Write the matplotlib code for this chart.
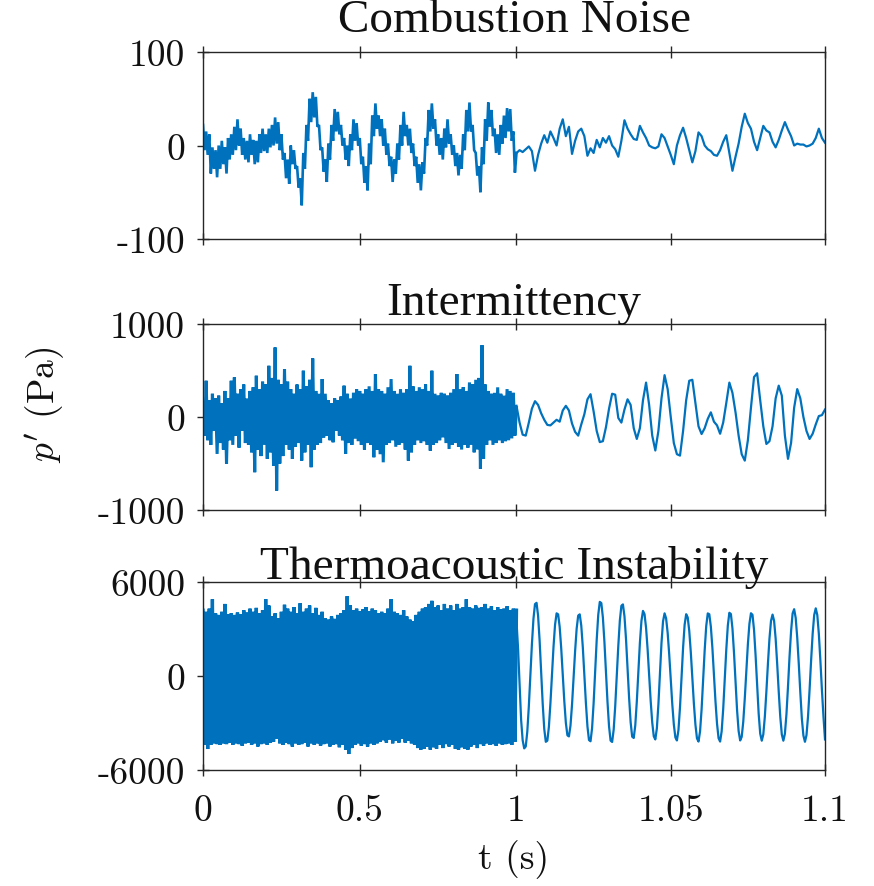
import numpy as np
import matplotlib
matplotlib.use('Agg')
import matplotlib.pyplot as plt

plt.rcParams['mathtext.fontset'] = 'cm'

# ---------------- data ----------------
titles = ["Combustion Noise", "Intermittency", "Thermoacoustic Instability"]
x_ticks = [0, 0.5, 1, 1.05, 1.1]
x_ticklabels = ["0", "0.5", "1", "1.05", "1.1"]
y_ticks = [[-100, 0, 100], [-1000, 0, 1000], [-6000, 0, 6000]]
y_ticklabels = [["-100", "0", "100"], ["-1000", "0", "1000"], ["-6000", "0", "6000"]]

# Combustion noise: 0-1 s (coarse view) and 1-1.1 s (zoomed view)
noise_early = [
    22, -5, 15, -10, 12, -30, -2, -25, -5, -34,
    0, -25, 5, -20, -2, -30, 8, -15, 12, -10,
    20, -5, 28, 0, 18, -10, 8, -15, 5, -18,
    12, -10, 6, -20, 5, -18, 12, -8, 18, -6,
    12, -8, 18, -2, 22, 0, 30, 2, 25, -5,
    12, -15, -8, -35, -15, -41, 0, -20, -5, -25,
    -22, -45, -35, -64, -8, -25, 22, 5, 50, 25,
    57, 30, 52, 20, 22, -5, -2, -28, -15, -39,
    2, -15, 22, 5, 39, 15, 36, 12, 22, 0,
    8, -15, 0, -22, 12, -5, 28, 5, 24, 0,
    8, -20, -12, -40, -22, -48, 2, -20, 32, 10,
    45, 18, 32, 10, 28, 0, 18, -10, 2, -22,
    -12, -39, -15, -30, 2, -15, 22, 0, 36, 10,
    22, 0, 18, -8, 2, -22, -12, -40, -20, -48,
    -18, -30, 8, 0, 38, 15, 45, 18, 28, 0,
    12, -10, 8, -15, 18, -2, 28, 2, 12, -10,
    0, -22, -8, -32, -10, -25, 12, -5, 38, 15,
    46, 15, 22, -5, -8, -32, -22, -50, -2, -20,
    28, 5, 46, 20, 38, 10, 18, -8, 12, -10,
    22, 2, 32, 8, 40, 15, 39, 5, 15, -29,
    -8]
noise_late = [
    -8, -5, -7, -4, -1, -6, -27, -10, 2, 11,
    3, 15, 8, 0, 18, 28, 10, 20, -9, 5,
    15, 18, 10, -11, -3, -8, 6, -2, 8, 3,
    10, 0, -4, -12, 5, 27, 18, 12, 7, 6,
    21, 14, 8, 0, -2, -3, -1, 12, 8, -1,
    -10, -20, 0, 11, 19, 8, -5, -18, -6, 14,
    10, 0, -4, -6, -10, -11, -5, 4, 11, -8,
    -27, -12, 2, 20, 34, 24, 18, 4, -5, 8,
    21, 16, 14, 4, -2, 6, 16, 25, 17, 10,
    0, 2, 1, 1, -1, 0, 2, 8, 18, 8,
    3]

# Intermittency
inter_early = [
    150, -200, 390, -250, 180, -300, 250, -150, 200, -397,
    230, -280, 150, -350, 280, -505, 200, -250, 390, -300,
    426, -200, 250, -330, 300, -150, 350, -280, 200, -300,
    280, -380, 320, -594, 444, -350, 300, -420, 380, -300,
    350, -450, 551, -380, 420, -523, 748, -791, 400, -500,
    350, -420, 515, -300, 380, -350, 300, -450, 250, -320,
    350, -280, 300, -469, 498, -380, 330, -300, 400, -540,
    630, -350, 280, -300, 250, -280, 408, -220, 250, -200,
    180, -250, 150, -272, 200, -150, 180, -200, 220, -250,
    337, -397, 250, -280, 200, -300, 260, -230, 300, -260,
    280, -300, 250, -350, 300, -280, 330, -300, 280, -433,
    462, -350, 300, -400, 280, -487, 250, -300, 320, -280,
    408, -250, 280, -320, 250, -300, 300, -280, 260, -350,
    300, -469, 551, -380, 330, -300, 280, -250, 320, -280,
    300, -260, 350, -300, 280, -362, 498, -300, 250, -280,
    230, -250, 260, -220, 250, -280, 230, -344, 260, -300,
    300, -280, 462, -320, 300, -350, 320, -300, 280, -330,
    372, -300, 350, -380, 400, -350, 420, -558, 773, -450,
    350, -300, 280, -250, 250, -300, 260, -280, 319, -250,
    250, -280, 230, -260, 300, -250, 280, -230, 260, -200,
    100]
inter_late = [
    120, -60, -190, -200, -60, 90, 170, 130, 40, -30,
    -85, -90, -60, -30, -50, 70, 120, 70, -70, -160,
    -200, -80, 30, 190, 245, 60, -150, -270, -260, -110,
    90, 250, 240, -10, -60, 80, 190, 130, -120, -236,
    -120, 180, 370, 130, -200, -360, -150, 200, 450, 300,
    0, -280, -400, -415, -150, 180, 390, 400, 150, -100,
    -183, -120, -20, 50, -50, -90, -180, -60, 150, 370,
    260, 50, -200, -400, -469, -250, 100, 430, 470, 180,
    -100, -290, -260, -100, 200, 337, 230, -200, -450, -280,
    100, 300, 200, 0, -150, -236, -180, -80, 10, 20,
    80]

# Thermoacoustic instability
thermo_early = [
    4200, -4400, 4100, -4660, 4300, -4400, 4900, -4300, 4000, -4350,
    3900, -4400, 4100, -4300, 4600, -4350, 3950, -4250, 4000, -4400,
    3900, -4300, 4050, -4350, 3950, -4450, 4200, -4300, 4050, -4250,
    4300, -4400, 4100, -4300, 4350, -4500, 4000, -4350, 4200, -4300,
    4910, -4400, 4500, -4250, 3800, -4200, 4000, -4020, 3700, -4300,
    4100, -4400, 4550, -4250, 4300, -4350, 4100, -4500, 4400, -4300,
    4000, -4400, 4650, -4350, 4100, -4250, 4300, -4500, 4500, -4300,
    4000, -4400, 4350, -4300, 3900, -4450, 4100, -4350, 3700, -4300,
    3600, -4500, 3800, -4400, 3650, -4350, 3900, -4550, 4000, -4400,
    4200, -4700, 5100, -4980, 4500, -4600, 4200, -4400, 4300, -4300,
    4150, -4450, 4250, -4350, 4400, -4500, 4150, -4300, 4300, -4400,
    4200, -4300, 4000, -4200, 4100, -4100, 4000, -4250, 4300, -4050,
    4900, -4300, 4100, -4150, 4000, -4250, 3900, -4000, 4200, -4250,
    3800, -4150, 3600, -4300, 3500, -4400, 3900, -4600, 4100, -4700,
    4300, -4650, 4400, -4500, 4600, -4700, 4800, -4550, 4400, -4650,
    4500, -4400, 4200, -4600, 4600, -4350, 4300, -4500, 4500, -4400,
    4200, -4650, 4600, -4700, 4300, -4550, 4400, -4650, 4900, -4700,
    4400, -4500, 4300, -4400, 4500, -4600, 4350, -4350, 4400, -4450,
    4600, -4300, 4300, -4400, 4450, -4350, 4200, -4450, 4400, -4300,
    4250, -4400, 4300, -4350, 4450, -4300, 4200, -4400, 4300, -4200,
    4200]
thermo_late = [
    3500, 1800, -500, -2800, -4100, -4620, -4500, -3560, -1940, 45,
    2030, 3650, 4590, 4670, 3850, 2250, 235, -1780, -3380, -4200,
    -4130, -3255, -1740, 80, 1860, 3275, 4000, 3935, 3135, 1760,
    75, -1610, -2985, -3785, -3855, -3170, -1840, -135, 1585, 3020,
    3855, 3935, 3215, 1830, 60, -1725, -3220, -4090, -4165, -3335,
    -1735, 285, 2305, 3905, 4730, 4655, 3745, 2185, 265, -1655,
    -3215, -4125, -4210, -3430, -1935, -15, 1920, 3535, 4480, 4570,
    3815, 2360, 495, -1385, -2955, -3875, -3955, -3160, -1630, 265,
    2120, 3510, 4155, 3950, 3080, 1705, 50, -1605, -2965, -3850,
    -4050, -3345, -1810, 165, 2105, 3490, 4000, 3675, 2755, 1390,
    -230, -1805, -3090, -3920, -4115, -3450, -1995, -85, 1810, 3270,
    3945, 3740, 2885, 1520, -120, -1760, -3105, -3980, -4185, -3540,
    -2130, -265, 1645, 3185, 3995, 3940, 3150, 1795, 115, -1620,
    -3040, -3970, -4185, -3535, -2120, -245, 1675, 3220, 4035, 3955,
    3040, 1500, -380, -2185, -3510, -4115, -3885, -2930, -1430, 330,
    2020, 3330, 4005, 3905, 2940, 1315, -610, -2410, -3680, -4130,
    -3730, -2600, -990, 780, 2390, 3520, 3920, 3520, 2390, 780,
    -990, -2600, -3730, -4130, -3690, -2450, -700, 1220, 2850, 3995,
    4265, 3710, 2450, 780, -1055, -2725, -3800, -4200, -3775, -2580,
    -880, 1000, 2700, 3895, 4320, 3895, 2700, 1000, -880, -2580,
    -4050]

series = [(noise_early, noise_late), (inter_early, inter_late), (thermo_early, thermo_late)]

# ---------------- broken time axis: 0-1 s on left half, 1-1.1 s on right half ----------------
BREAK = 0.504


def fwd(x):
    x = np.asarray(x, dtype=float)
    return np.where(x <= 1.0, x * BREAK, BREAK + (x - 1.0) * (1 - BREAK) / 0.1)


def inv(y):
    y = np.asarray(y, dtype=float)
    return np.where(y <= BREAK, y / BREAK, 1.0 + (y - BREAK) * 0.1 / (1 - BREAK))


W, H = 874, 887
fig = plt.figure(figsize=(W / 100, H / 100), dpi=100)

left_px, right_px = 203, 825
panels_px = [(53, 240), (325, 511), (583, 771)]
title_pads = [15, 3, 3]
early_lw = [1.9, 2.2, 2.4]
blue = '#0072BD'
dark = '#262626'

axes = []
for i, (top, bot) in enumerate(panels_px):
    ax = fig.add_axes([left_px / W, 1 - bot / H, (right_px - left_px) / W, (bot - top) / H])
    axes.append(ax)
    early, late = series[i]
    t_early = np.linspace(0, 1.0, len(early))
    t_late = np.linspace(1.0, 1.1, len(late))
    ax.set_xscale('function', functions=(fwd, inv))
    ax.plot(t_early, early, color=blue, lw=early_lw[i], solid_joinstyle='miter')
    ax.plot([t_early[-1], t_late[0]], [early[-1], late[0]], color=blue, lw=1.6)
    ax.plot(t_late, late, color=blue, lw=1.6)
    ax.set_xlim(0, 1.1)
    lim = y_ticks[i][-1]
    ax.set_ylim(-lim, lim)
    ax.set_yticks(y_ticks[i])
    ax.set_yticklabels(y_ticklabels[i])
    ax.set_xticks(x_ticks)
    ax.minorticks_off()
    if i == 2:
        ax.set_xticklabels(x_ticklabels)
    else:
        ax.set_xticklabels([])
    ax.tick_params(axis='both', which='both', direction='inout', length=8, width=1.0,
                   color=dark, labelcolor='#111111', labelsize=27, labelfontfamily='cmr10')
    ax.tick_params(axis='x', top=True, pad=13)
    ax.tick_params(axis='y', right=False, pad=9)
    for s in ax.spines.values():
        s.set_color(dark)
        s.set_linewidth(1.0)
    ax.set_title(titles[i], fontfamily='Liberation Serif', fontsize=34, pad=title_pads[i], color='#111111')

axes[2].set_xlabel('t (s)', fontfamily='cmr10', fontsize=27, labelpad=9, color='#111111')
fig.text(45 / W, 1 - 405 / H, "$p'$ (Pa)", rotation=90, ha='center', va='center',
         fontsize=27, fontfamily='cmr10', color='#111111')

fig.savefig('out.png', dpi=100, facecolor='white')
